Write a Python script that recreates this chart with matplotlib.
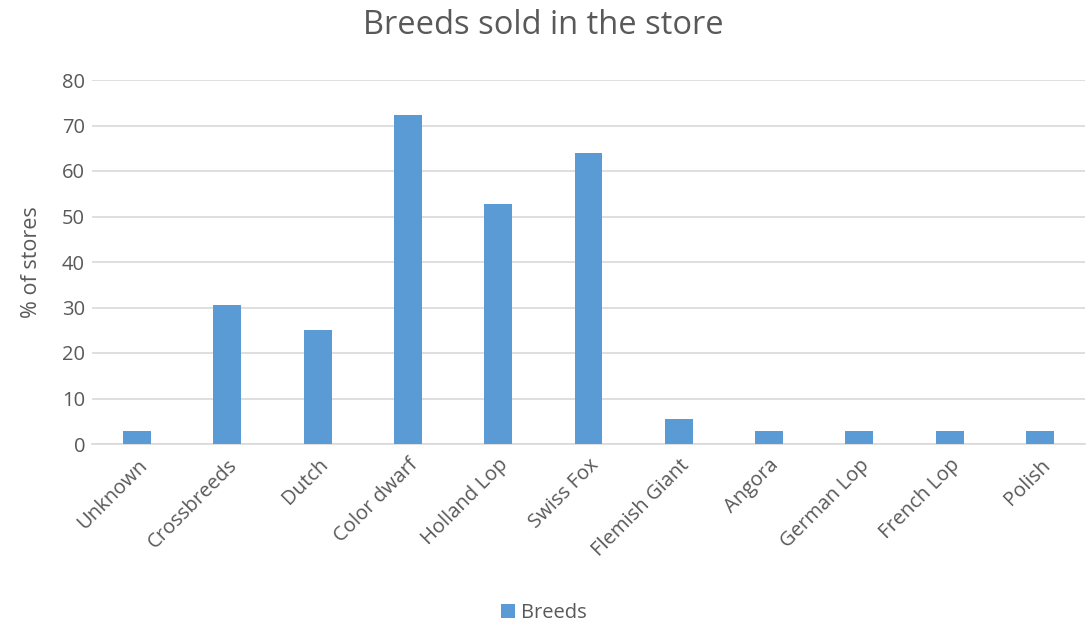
import matplotlib
matplotlib.use("Agg")
import matplotlib.pyplot as plt
from matplotlib.patches import Patch

breeds = ["Unknown", "Crossbreeds", "Dutch", "Color dwarf", "Holland Lop",
          "Swiss Fox", "Flemish Giant", "Angora", "German Lop", "French Lop", "Polish"]
pct_stores = [2.8, 30.6, 25.0, 72.2, 52.8, 63.9, 5.6, 2.8, 2.8, 2.8, 2.8]
y_ticks = [0, 10, 20, 30, 40, 50, 60, 70, 80]

bar_color = "#5B9BD5"
text_color = "#595959"
grid_color = "#D9D9D9"
font = "Open Sans"

fig = plt.figure(figsize=(10.87, 6.23), dpi=100)
ax = fig.add_axes([92 / 1087, 1 - 444 / 623, 993 / 1087, 364 / 623])

x = list(range(len(breeds)))
ax.bar(x, pct_stores, width=0.31, color=bar_color, zorder=3)

ax.set_xlim(-0.5, len(breeds) - 0.5)
ax.set_ylim(0, 80)
ax.set_yticks(y_ticks)
ax.set_yticklabels([str(v) for v in y_ticks], fontsize=14.5, color=text_color, family=font)
ax.set_xticks(x)
ax.set_xticklabels(breeds, rotation=45, ha="right", rotation_mode="anchor",
                   fontsize=14.5, color=text_color, family=font)
ax.tick_params(axis="both", length=0)
ax.tick_params(axis="y", pad=5)
ax.tick_params(axis="x", pad=8)

ax.grid(axis="y", color=grid_color, linewidth=1.2, zorder=0)
for side in ["top", "right", "left"]:
    ax.spines[side].set_visible(False)
ax.spines["bottom"].set_color(grid_color)
ax.spines["bottom"].set_linewidth(1.2)

ax.set_ylabel("% of stores", fontsize=15.5, color=text_color, family=font, labelpad=14)

fig.text(0.5, 1 - 26 / 623, "Breeds sold in the store", ha="center", va="center",
         fontsize=23.5, color=text_color, family=font)

handle = Patch(facecolor=bar_color, edgecolor="none")
fig.legend([handle], ["Breeds"], loc="center", bbox_to_anchor=(0.5, 1 - 613 / 623),
           frameon=False, prop={"family": font, "size": 14.5}, labelcolor=text_color,
           handlelength=0.7, handleheight=0.7, handletextpad=0.3)

fig.savefig("out.png", dpi=100)
